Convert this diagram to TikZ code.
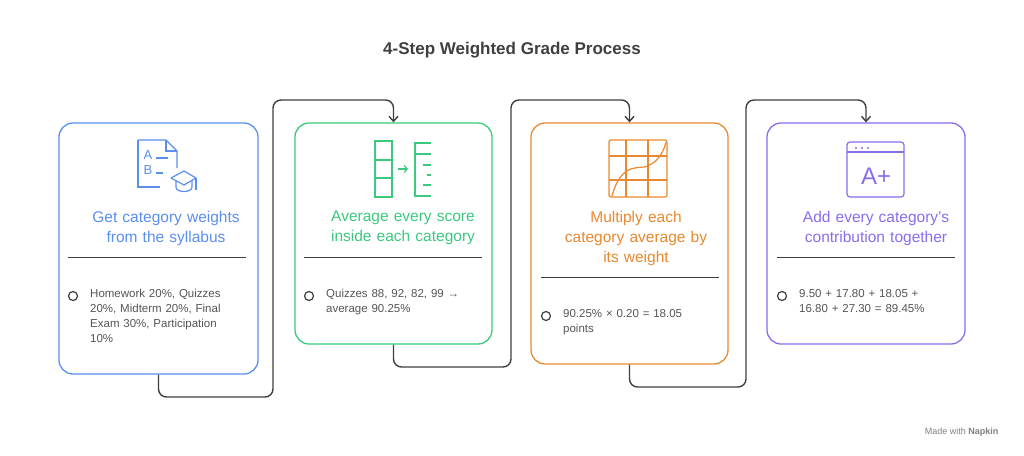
\documentclass[tikz,border=0pt]{standalone}
\usepackage{fontspec}
\setmainfont{Liberation Sans}
\usetikzlibrary{arrows.meta}
\definecolor{cblue}{HTML}{5B8FEE}
\definecolor{cgreen}{HTML}{3CC97F}
\definecolor{corange}{HTML}{E8892F}
\definecolor{cpurple}{HTML}{8A6DEE}
\definecolor{cline}{HTML}{3F3F3F}
\definecolor{ctext}{HTML}{555555}
\tikzset{
	card/.style={draw=#1, line width=1.3pt, rounded corners=14pt, fill=white},
	head/.style={text=#1, font=\fontsize{15.5}{20}\selectfont, align=center, text width=190pt},
	sep/.style={draw=cline, line width=1pt},
	dot/.style={draw=cline, line width=1.2pt, circle, inner sep=0pt, minimum size=9pt},
	body/.style={text=ctext, font=\fontsize{11.5}{15}\selectfont, align=left, text width=140pt, anchor=north west, inner sep=0pt},
	conn/.style={draw=cline, line width=1.4pt, rounded corners=8pt},
	icon/.style={draw=#1, line width=1.2pt}
}
\begin{document}
\begin{tikzpicture}[x=1pt, y=-1pt]
	\useasboundingbox (0,0) rectangle (1024,455);
	% title
	\node (title) at (512,50) {\fontsize{17}{20}\selectfont\bfseries\color{cline}4-Step Weighted Grade Process};

	% connectors
	\coordinate (l1) at (273,397);
	\coordinate (l2) at (511,367);
	\coordinate (l3) at (746,387);

	% cards
	\node[card=cblue, minimum width=199pt, minimum height=251pt] (c1) at (158.5,248.5) {};
	\node[card=cgreen, minimum width=197pt, minimum height=221pt] (c2) at (393.5,233.5) {};
	\node[card=corange, minimum width=197pt, minimum height=241pt] (c3) at (629.5,243.5) {};
	\node[card=cpurple, minimum width=198pt, minimum height=221pt] (c4) at (866,233.5) {};

	\draw[conn, -{Straight Barb[length=5pt,width=9pt]}] (c1.south) |- (l1) -- (l1 |- 0,100) -| (c2.north);
	\draw[conn, -{Straight Barb[length=5pt,width=9pt]}] (c2.south) |- (l2) -- (l2 |- 0,100) -| (c3.north);
	\draw[conn, -{Straight Barb[length=5pt,width=9pt]}] (c3.south) |- (l3) -- (l3 |- 0,100) -| (c4.north);

	% icon 1
	\draw[icon=cblue] (138,140) -- (166,140) -- (177,151) -- (177,168);
	\draw[icon=cblue] (166,140) -- (166,151) -- (177,151);
	\draw[icon=cblue] (138,140) -- (138,187) -- (160,187);
	\node[text=cblue, font=\fontsize{13}{13}\selectfont, inner sep=0pt] (ia) at (148,155) {A};
	\node[text=cblue, font=\fontsize{13}{13}\selectfont, inner sep=0pt] (ib) at (148,170) {B};
	\draw[icon=cblue] (156,158) -- (168,158);
	\draw[icon=cblue] (156,173) -- (163,173);
	\draw[icon=cblue, line join=round] (171,178) -- (184,171) -- (196,178) -- (184,185) -- cycle;
	\draw[icon=cblue] (176,181) -- (176,187) .. controls (176,193) and (192,193) .. (192,187) -- (192,181);
	\draw[icon=cblue] (196,178) -- (196,190);

	% icon 2
	\draw[icon=cgreen] (375,141) rectangle (392,197);
	\draw[icon=cgreen] (375,160) -- (392,160) (375,178) -- (392,178);
	\draw[icon=cgreen, -{Straight Barb[length=3pt,width=7pt]}] (398,169) -- (408,169);
	\draw[icon=cgreen] (431,143) -- (415,143) -- (415,196) -- (431,196);
	\draw[icon=cgreen] (415,154) -- (431,154);
	\draw[icon=cgreen] (423,165) -- (431,165) (427,175) -- (431,175) (423,185) -- (431,185);

	% icon 3
	\draw[icon=corange, rounded corners=2pt] (609,140) rectangle (667,197);
	\draw[icon=corange] (626,140) -- (626,197) (648,140) -- (648,197);
	\draw[icon=corange] (609,156) -- (667,156) (609,180) -- (667,180);
	\draw[icon=corange] (612,196) .. controls (622,160) and (640,170) .. (648,166) .. controls (660,160) and (664,150) .. (666,142);

	% icon 4
	\draw[icon=cpurple, rounded corners=3pt] (847,142) rectangle (904,197);
	\draw[icon=cpurple] (847,152) -- (904,152);
	\foreach \d in {856,862,868}
		\fill[cpurple] (\d,148) circle (1.1pt);
	\node[text=cpurple, font=\fontsize{24}{24}\selectfont, inner sep=0pt] (aplus) at (876,176) {A+};

	% headings
	\node[head=cblue] (h1) at (166,228) {Get category weights\\from the syllabus};
	\node[head=cgreen] (h2) at (403,228) {Average every score\\inside each category};
	\node[head=corange] (h3) at (636,238) {Multiply each\\category average by\\its weight};
	\node[head=cpurple] (h4) at (876,228) {Add every category's\\contribution together};

	% separators
	\draw[sep] (68,257) -- (246,257);
	\draw[sep] (304,257) -- (482,257);
	\draw[sep] (541,277) -- (719,277);
	\draw[sep] (777,257) -- (955,257);

	% bullets
	\node[dot] (b1) at (73,296) {};
	\node[body] (t1) at (90,289) {\raggedright Homework 20\%, Quizzes 20\%, Midterm 20\%, Final Exam 30\%, Participation 10\%};
	\node[dot] (b2) at (309,296) {};
	\node[body] (t2) at (326,289) {\raggedright Quizzes 88, 92, 82, 99 → average 90.25\%};
	\node[dot] (b3) at (546,316) {};
	\node[body] (t3) at (563,309) {\raggedright 90.25\% × 0.20 = 18.05 points};
	\node[dot] (b4) at (782,296) {};
	\node[body] (t4) at (799,289) {\raggedright 9.50 + 17.80 + 18.05 + 16.80 + 27.30 = 89.45\%};

	% footer
	\node[text=gray, font=\fontsize{9}{9}\selectfont, anchor=east] (made) at (1002,432) {Made with \textbf{Napkin}};
\end{tikzpicture}
\end{document}
